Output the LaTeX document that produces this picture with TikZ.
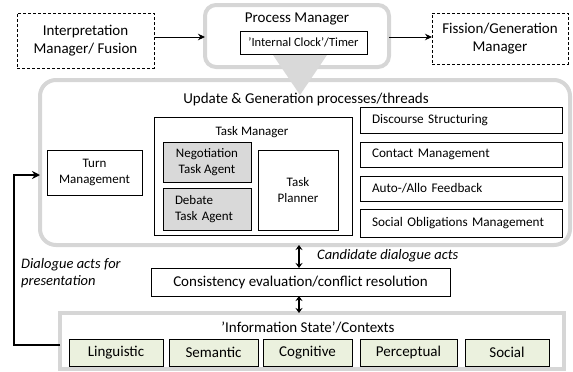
\documentclass[tikz,border=0pt]{standalone}
\usepackage{fontspec}
\setmainfont{Carlito}
\usetikzlibrary{arrows.meta}
\definecolor{frame}{HTML}{D6D6D6}
\definecolor{agent}{HTML}{D9D9D9}
\definecolor{ctx}{HTML}{EBF1DE}
\newcommand{\fs}[1]{\fontsize{#1}{\fpeval{#1*1.18}}\selectfont}
\tikzset{
  box/.style={draw=black, line width=0.8pt, inner sep=1pt, outer sep=0pt, align=center},
  dbox/.style={box, dash pattern=on 3pt off 2pt},
  frm/.style={draw=frame, line width=4pt, outer sep=0pt},
  agentbox/.style={box, fill=agent},
  ctxbox/.style={box, fill=ctx, font=\fs{15}},
  rowbox/.style={box, font=\fs{13.2}, align=left, inner xsep=12pt, text width=178pt},
  big/.style={font=\fs{15}},
  small/.style={font=\fs{13}},
  note/.style={font=\fs{14.5}\itshape, inner sep=0pt},
  link/.style={-{Stealth[length=7pt,width=6.5pt]}, line width=1pt},
  both/.style={{Stealth[length=5pt,width=7pt]}-{Stealth[length=5pt,width=7pt]}, line width=2pt},
}
% place a box by its top-left corner and size
\newcommand{\boxat}[7]{\node[#1, minimum width=#5pt, minimum height=#6pt, anchor=north west] (#2) at (#3,#4) {#7};}
\begin{document}
\begin{tikzpicture}[x=1pt, y=-1pt]
\useasboundingbox (0,0) rectangle (573,372);

% top row
\boxat{dbox,big}{interp}{17}{13}{137}{55}{Interpretation\\Manager/ Fusion}
\node[frm, rounded corners=11pt, minimum width=184pt, minimum height=62pt, anchor=north west] (proc) at (205,5) {};
\node[big] (proct) at (297,19) {Process Manager};
\boxat{box,font=\fs{12.5}}{clock}{240}{31}{127}{23}{'Internal Clock'/Timer}
\boxat{dbox,big}{fiss}{432}{13}{136}{51}{Fission/Generation\\Manager}
\draw[link] (interp.east |- 0,37) -- (proc.west |- 0,37);
\draw[link] (proc.east |- 0,37) -- (fiss.west |- 0,37);

% update and generation processes
\node[frm, rounded corners=16pt, minimum width=530pt, minimum height=165pt, anchor=north west] (upd) at (40,80) {};
\node[big] (updt) at (306,99) {Update \& Generation processes/threads};
\boxat{box,small}{turn}{47}{150}{95}{45}{Turn\\Management}
\boxat{box}{tm}{154}{117}{198}{118}{}
\node[small] (tmt) at (252,132) {Task Manager};
\boxat{agentbox,small}{neg}{163}{142}{88}{40}{Negotiation\\Task Agent}
\boxat{agentbox,small,align=left,inner xsep=12pt,text width=64pt}{deb}{163}{188}{88}{42}{Debate\\Task Agent}
\boxat{box,small}{plan}{258}{150}{80}{80}{Task\\Planner}
\boxat{rowbox}{ds}{360}{107}{202}{26}{Discourse Structuring}
\boxat{rowbox}{cm}{360}{142}{202}{25}{Contact Management}
\boxat{rowbox}{af}{360}{176}{202}{25}{Auto-/Allo Feedback}
\boxat{rowbox}{so}{360}{209}{202}{28}{Social Obligations Management}

% process manager feeding the threads
\fill[agent] (273,55) -- (327,55) -- (300,95) -- cycle;

% consistency check
\boxat{box,big}{cons}{151}{268}{299}{28}{Consistency evaluation/conflict resolution}
\draw[both] (upd.south -| 299,0) -- (cons.north -| 299,0);
\node[note, anchor=west] (cand) at (317,256) {Candidate dialogue acts};

% information state
\node[frm, minimum width=504pt, minimum height=56pt, anchor=north west] (info) at (60,313) {};
\node[big] (infot) at (308,328) {'Information State'/Contexts};
\boxat{ctxbox}{ling}{69}{339}{94}{27}{Linguistic}
\boxat{ctxbox}{sem}{169}{339}{89}{27}{Semantic}
\boxat{ctxbox}{cog}{263}{339}{89}{27}{Cognitive}
\boxat{ctxbox}{per}{360}{339}{97}{27}{Perceptual}
\boxat{ctxbox}{soc}{465}{339}{84}{27}{Social}
\draw[both] (cons.south -| 299,0) -- (info.north -| 299,0);

% dialogue acts returned for presentation
\coordinate (fb) at (14,345);
\draw[-{Stealth[length=8pt,width=8pt]}, line width=2pt] (info.west |- fb) -- (fb) |- (upd.west |- 0,175);
\node[note, align=left, anchor=west] (pres) at (21,273.5) {Dialogue acts for\\presentation};
\end{tikzpicture}
\end{document}
